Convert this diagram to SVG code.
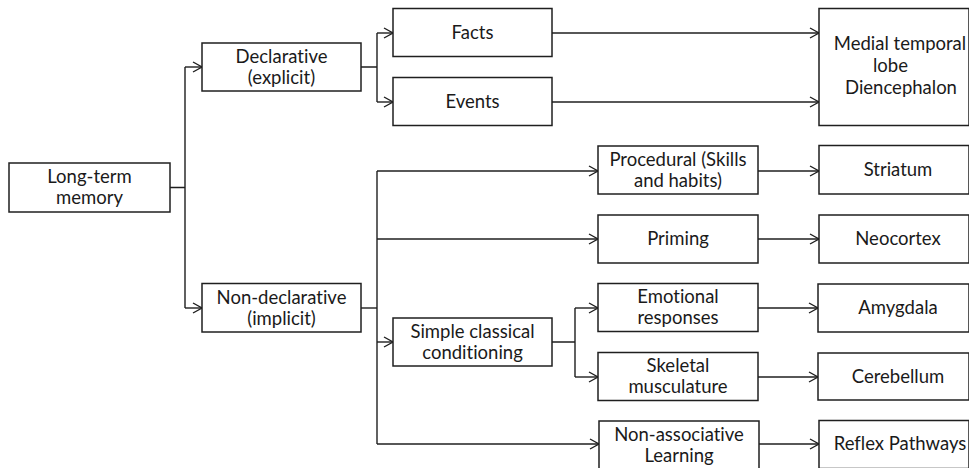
<svg xmlns="http://www.w3.org/2000/svg" width="969" height="468" viewBox="0 0 969 468">
<defs>
<marker id="arr" markerWidth="12" markerHeight="12" refX="10" refY="6" orient="auto" markerUnits="userSpaceOnUse">
<path d="M1,1 L10,6 L1,11" fill="none" stroke="#1f1f1f" stroke-width="1.4"/>
</marker>
<style>
.b{fill:#fff;stroke:#1f1f1f;stroke-width:1.5}
.t{font-family:Lato,"Liberation Sans",sans-serif;font-size:18.5px;fill:#1a1a1a;text-anchor:middle;font-variant-ligatures:none}
.s{font-family:Lato,"Liberation Sans",sans-serif;font-size:18.5px;fill:#1a1a1a;text-anchor:start}
.c{fill:none;stroke:#1f1f1f;stroke-width:1.4}
.a{marker-end:url(#arr)}
</style>
</defs>
<rect width="969" height="468" fill="#fff"/>
<g id="connectors">
<path class="c" d="M170 187.5H185M185 67V308"/>
<path class="c a" d="M185 67H202"/>
<path class="c a" d="M185 308H202"/>
<path class="c" d="M361 67H377M377 33V102"/>
<path class="c a" d="M377 33H393"/>
<path class="c a" d="M377 102H393"/>
<path class="c a" d="M552 33H819"/>
<path class="c a" d="M552 102H819"/>
<path class="c" d="M361 308H377" stroke-width="2.2"/>
<path class="c" d="M377 171V444"/>
<path class="c a" d="M377 171H598"/>
<path class="c a" d="M377 239H598"/>
<path class="c a" d="M377 342H393"/>
<path class="c a" d="M377 444H599"/>
<path class="c" d="M552 342H575M575 308V377"/>
<path class="c a" d="M575 308H598"/>
<path class="c a" d="M575 377H598"/>
<path class="c a" d="M758 171H819"/>
<path class="c a" d="M758 239H819"/>
<path class="c a" d="M758 308H818"/>
<path class="c a" d="M758 377H818"/>
<path class="c a" d="M759 444H819"/>
</g>
<g id="ltm"><rect class="b" x="9" y="163" width="161" height="49"/><text class="t" x="89.5" y="183">Long-term</text><text class="t" x="89.5" y="204">memory</text></g>
<g id="declarative"><rect class="b" x="202" y="43" width="159" height="48"/><text class="t" x="281.5" y="62.5">Declarative</text><text class="t" x="281.5" y="83.5">(explicit)</text></g>
<g id="nondeclarative"><rect class="b" x="202" y="283.5" width="159" height="48.5"/><text class="t" x="281.5" y="303.5">Non-declarative</text><text class="t" x="281.5" y="324.5">(implicit)</text></g>
<g id="facts"><rect class="b" x="393" y="8.5" width="159" height="48"/><text class="t" x="472.5" y="39">Facts</text></g>
<g id="events"><rect class="b" x="393" y="77.5" width="159" height="48"/><text class="t" x="472.5" y="108">Events</text></g>
<g id="medial"><rect class="b" x="819" y="8.5" width="150" height="117"/><text class="t" x="900" y="50">Medial temporal</text><text class="s" x="873" y="72">lobe</text><text class="t" x="901" y="94">Diencephalon</text></g>
<g id="procedural"><rect class="b" x="598" y="146" width="160" height="48"/><text class="t" x="678" y="165.5">Procedural (Skills</text><text class="t" x="678" y="186.5">and habits)</text></g>
<g id="priming"><rect class="b" x="598" y="215" width="160" height="48"/><text class="t" x="678" y="245">Priming</text></g>
<g id="scc"><rect class="b" x="393" y="318" width="159" height="48"/><text class="t" x="472.5" y="337.5">Simple classical</text><text class="t" x="472.5" y="358.5">conditioning</text></g>
<g id="emotional"><rect class="b" x="598" y="283.5" width="160" height="48"/><text class="t" x="678" y="303">Emotional</text><text class="t" x="678" y="324">responses</text></g>
<g id="skeletal"><rect class="b" x="598" y="352.5" width="160" height="48"/><text class="t" x="678" y="372">Skeletal</text><text class="t" x="678" y="393">musculature</text></g>
<g id="nonassociative"><rect class="b" x="599" y="421" width="160" height="48"/><text class="t" x="679" y="440.5">Non-associative</text><text class="t" x="679" y="461.5">Learning</text></g>
<g id="striatum"><rect class="b" x="819" y="145.5" width="150" height="48.5"/><text class="t" x="898" y="176">Striatum</text></g>
<g id="neocortex"><rect class="b" x="819" y="215" width="150" height="48"/><text class="t" x="898" y="245">Neocortex</text></g>
<g id="amygdala"><rect class="b" x="818" y="284" width="151" height="48"/><text class="t" x="898" y="314">Amygdala</text></g>
<g id="cerebellum"><rect class="b" x="818" y="353" width="151" height="47"/><text class="t" x="898" y="383">Cerebellum</text></g>
<g id="reflex"><rect class="b" x="819" y="420.5" width="150" height="48"/><text class="t" x="900" y="450">Reflex Pathways</text></g>
</svg>
